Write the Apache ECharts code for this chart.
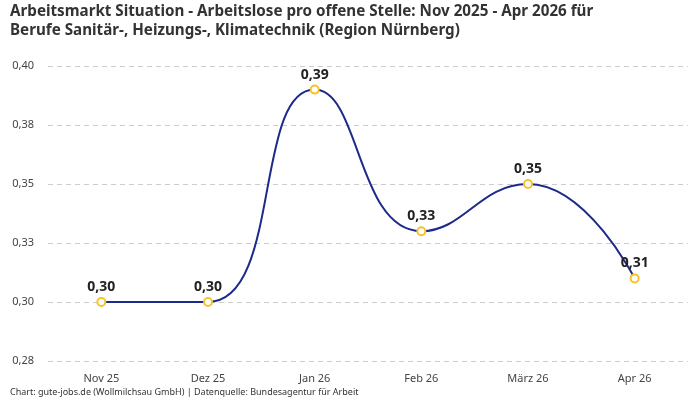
<!DOCTYPE html>
<html>
<head>
<meta charset="utf-8">
<script src="https://cdn.jsdelivr.net/npm/echarts@6/dist/echarts.min.js"></script>
<style>
    html, body { margin: 0; padding: 0; background: #fff; }
    #chart { width: 700px; height: 400px; }
</style>
</head>
<body>
<div id="chart"></div>
<script>
    let months = ['Nov 25', 'Dez 25', 'Jan 26', 'Feb 26', 'März 26', 'Apr 26'];
    let ratios = [0.30, 0.30, 0.39, 0.33, 0.35, 0.31];

    let fontName = '"Noto Sans", Roboto, sans-serif';

    function fmt(v) {
        return v.toFixed(2).replace('.', ',');
    }

    let myChart = echarts.init(document.getElementById('chart'));

    let option = {
        animation: false,
        textStyle: { fontFamily: fontName },
        title: [
            {
                text: 'Arbeitsmarkt Situation - Arbeitslose pro offene Stelle: Nov 2025 - Apr 2026 für\nBerufe Sanitär-, Heizungs-, Klimatechnik (Region Nürnberg)',
                left: 10,
                top: 2,
                padding: 0,
                textStyle: {
                    fontFamily: fontName,
                    fontSize: 15.2,
                    fontWeight: 'bold',
                    color: '#333',
                    lineHeight: 19
                }
            },
            {
                text: 'Chart: gute-jobs.de (Wollmilchsau GmbH) | Datenquelle: Bundesagentur für Arbeit',
                left: 10,
                top: 388,
                padding: 0,
                textStyle: {
                    fontFamily: fontName,
                    fontSize: 9,
                    fontWeight: 'normal',
                    color: '#333'
                }
            }
        ],
        grid: {
            left: 48,
            right: 12,
            top: 66,
            bottom: 39
        },
        xAxis: {
            type: 'category',
            data: months,
            boundaryGap: true,
            axisLine: { show: false },
            axisTick: { show: false },
            axisLabel: { color: '#444', fontSize: 11, margin: 12 }
        },
        yAxis: {
            type: 'value',
            min: 0.275,
            max: 0.4,
            interval: 0.025,
            axisLabel: {
                color: '#444',
                fontSize: 11,
                margin: 14,
                formatter: function (v) { return fmt(v); }
            },
            splitLine: {
                lineStyle: { color: '#ccc', type: [5, 4] }
            }
        },
        series: [
            {
                type: 'line',
                data: ratios,
                smooth: 0.5,
                symbol: 'emptyCircle',
                symbolSize: 8,
                lineStyle: { color: '#1c2a8a', width: 2 },
                itemStyle: { color: '#f7c22a', borderColor: '#f7c22a', borderWidth: 2 },
                label: {
                    show: true,
                    position: 'top',
                    distance: 3,
                    color: '#222',
                    fontSize: 14,
                    fontWeight: 'bold',
                    formatter: function (p) { return fmt(p.value); }
                }
            }
        ]
    };

    myChart.setOption(option);
</script>
</body>
</html>
